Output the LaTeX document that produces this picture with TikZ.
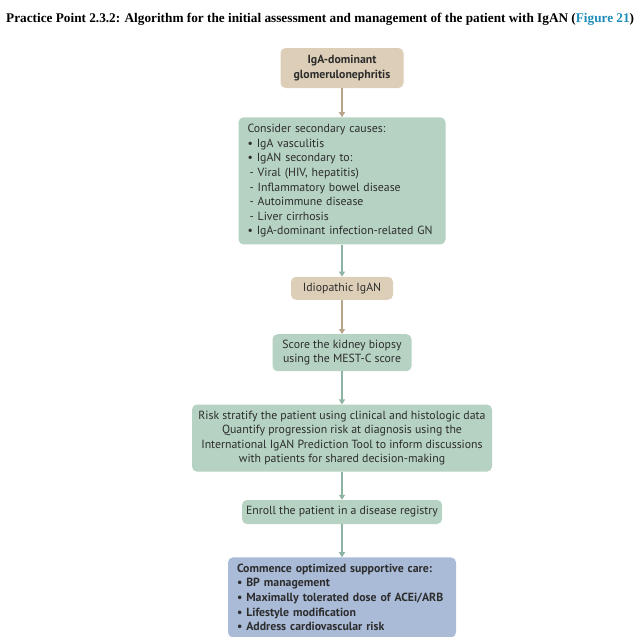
\documentclass[tikz,border=0pt]{standalone}
\usepackage{fontspec}
\setmainfont{Liberation Serif}
\setsansfont{PT Sans}
\usetikzlibrary{positioning,arrows.meta}

\definecolor{tanFill}{RGB}{221,206,184}
\definecolor{tanLine}{RGB}{184,164,138}
\definecolor{greenFill}{RGB}{181,210,195}
\definecolor{greenLine}{RGB}{140,180,162}
\definecolor{blueFill}{RGB}{170,187,216}
\definecolor{boxText}{RGB}{45,45,45}
\definecolor{linkBlue}{RGB}{30,140,185}

\begin{document}
\begin{tikzpicture}[x=1pt,y=-1pt]
  \tikzstyle{heading} = [
    % Just text!
    inner sep=0pt, anchor=west,
    font=\fontsize{13.25}{15}\selectfont\bfseries
  ];
  \tikzstyle{stepBox} = [
    % The shape:
    rectangle, rounded corners=5pt, inner sep=4pt,
    % Font:
    text=boxText, font=\sffamily\fontsize{11.8}{14.6}\selectfont, align=center
  ];
  \tikzstyle{tanStep} = [
    stepBox,
    % The filling:
    fill=tanFill
  ];
  \tikzstyle{greenStep} = [
    stepBox,
    % The filling:
    fill=greenFill
  ];
  \tikzstyle{blueStep} = [
    stepBox,
    % The filling:
    fill=blueFill
  ];
  \tikzstyle{tanFlow} = [
    draw = tanLine,
    line width=1.4pt,
    -{Triangle[width=6pt,length=5pt]}
  ];
  \tikzstyle{greenFlow} = [
    draw = greenLine,
    line width=1.4pt,
    -{Triangle[width=6pt,length=5pt]}
  ];

  \useasboundingbox (0,0) rectangle (640,637);

  \node [heading] (title) at (6,19)
        {Practice Point 2.3.2: Algorithm for the initial assessment and management
         of the patient with IgAN (\textcolor{linkBlue}{Figure 21})};

  \node [tanStep, minimum width=123pt, minimum height=40pt,
         font=\sffamily\fontsize{11.8}{14.6}\selectfont\bfseries] (igaGN) at (342,68)
        {IgA-dominant\\glomerulonephritis};

  \node [greenStep, below = 29pt of igaGN, minimum height=127pt,
         text width=189pt, inner xsep=9pt, align=left] (secondary)
        {Consider secondary causes:\\
         \textbullet\ IgA vasculitis\\
         \textbullet\ IgAN secondary to:\\
         \hspace*{2pt}- Viral (HIV, hepatitis)\\
         \hspace*{2pt}- Inflammatory bowel disease\\
         \hspace*{2pt}- Autoimmune disease\\
         \hspace*{2pt}- Liver cirrhosis\\
         \textbullet\ IgA-dominant infection-related GN};

  \node [tanStep, below = 32pt of secondary, minimum width=102pt,
         minimum height=23pt] (idiopathic) {Idiopathic IgAN};

  \node [greenStep, below = 34pt of idiopathic, minimum width=139pt,
         minimum height=37pt] (biopsy)
        {Score the kidney biopsy\\using the MEST-C score};

  \node [greenStep, below = 33pt of biopsy, minimum width=300pt,
         minimum height=67pt] (risk)
        {Risk stratify the patient using clinical and histologic data\\
         Quantify progression risk at diagnosis using the\\
         International IgAN Prediction Tool to inform discussions\\
         with patients for shared decision-making};

  \node [greenStep, below = 28pt of risk, minimum width=200pt,
         minimum height=24pt] (registry)
        {Enroll the patient in a disease registry};

  \node [blueStep, below = 33pt of registry, minimum height=80pt,
         text width=210pt, inner xsep=9pt, align=left,
         font=\sffamily\fontsize{11.8}{14.6}\selectfont\bfseries] (supportive)
        {Commence optimized supportive care:\\
         \textbullet\ BP management\\
         \textbullet\ Maximally tolerated dose of ACEi/ARB\\
         \textbullet\ Lifestyle modification\\
         \textbullet\ Address cardiovascular risk};

  \path [tanFlow] (igaGN) to (secondary);
  \path [greenFlow] (secondary) to (idiopathic);
  \path [tanFlow] (idiopathic) to (biopsy);
  \path [greenFlow] (biopsy) to (risk);
  \path [greenFlow] (risk) to (registry);
  \path [greenFlow] (registry) to (supportive);
\end{tikzpicture}
\end{document}
